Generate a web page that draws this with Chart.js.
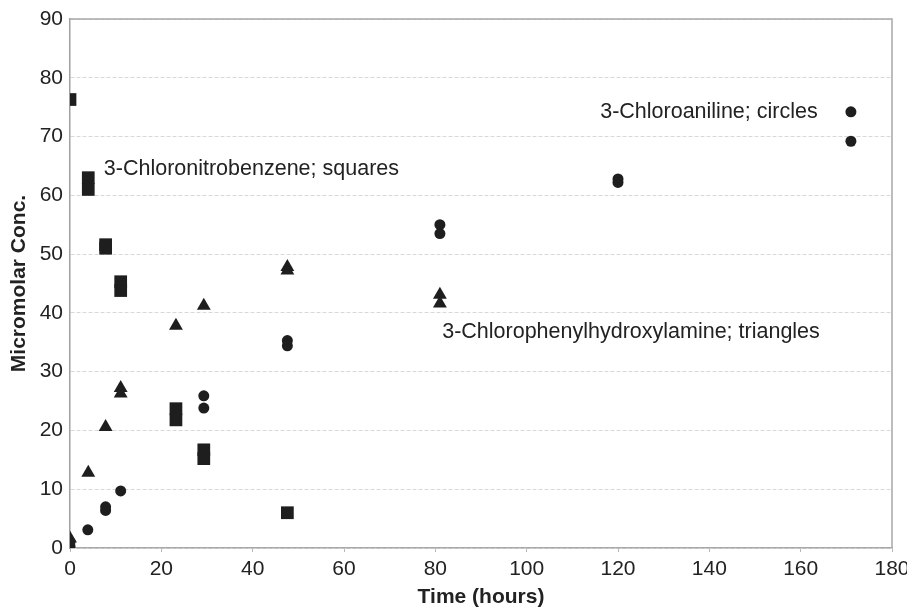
<!DOCTYPE html>
<html>
<head>
<meta charset="utf-8">
<script src="https://cdn.jsdelivr.net/npm/chart.js@4"></script>
<style>
  html, body { margin: 0; padding: 0; background: #fff; }
  #wrap { width: 907px; height: 610px; }
</style>
</head>
<body>
<div id="wrap"><canvas id="conc_chart" width="907" height="610"></canvas></div>
<script>
// 3-Chloronitrobenzene (squares)
const nitroTime = [0, 4, 4, 7.8, 7.8, 11.1, 11.1, 23.2, 23.2, 29.3, 29.3, 47.6];
const nitroConc = [76.3, 63.0, 61.0, 51.6, 51.0, 45.3, 43.8, 23.7, 21.8, 16.7, 15.2, 6.0];

// 3-Chlorophenylhydroxylamine (triangles)
const hydroxTime = [0, 4, 7.8, 11.1, 11.1, 23.2, 29.3, 47.6, 47.6, 81, 81];
const hydroxConc = [1.6, 12.8, 20.6, 27.2, 26.3, 37.8, 41.2, 47.8, 47.2, 43.1, 41.6];

// 3-Chloroaniline (circles)
const anilTime = [0, 0, 3.9, 7.8, 7.8, 11.1, 29.3, 29.3, 47.6, 47.6, 81, 81, 120, 120, 171, 171];
const anilConc = [0.3, 1.0, 3.1, 6.4, 7.0, 9.7, 25.9, 23.8, 35.3, 34.4, 55.0, 53.5, 62.8, 62.2, 74.2, 69.2];

// in-chart labels, anchored at data coordinates
const labelText = ["3-Chloronitrobenzene; squares", "3-Chlorophenylhydroxylamine; triangles", "3-Chloroaniline; circles"];
const labelTime = [7.4, 81.5, 116.1];
const labelConc = [64.5, 36.7, 74.2];

const FONT = "'Liberation Sans', Arial, Helvetica, sans-serif";
const INK = "#1e1e1e";

function toPoints(xs, ys) {
    return xs.map((x, i) => ({ x: x, y: ys[i] }));
}

const frameAndLabels = {
    id: "frameAndLabels",
    afterDatasetsDraw(chart) {
        const ctx = chart.ctx;
        const area = chart.chartArea;
        const xs = chart.scales.x;
        const ys = chart.scales.y;
        ctx.save();
        // top and right frame
        ctx.strokeStyle = "#a8a8a8";
        ctx.lineWidth = 1.5;
        ctx.beginPath();
        ctx.moveTo(area.left, area.top);
        ctx.lineTo(area.right, area.top);
        ctx.lineTo(area.right, area.bottom);
        ctx.stroke();
        // labels
        ctx.fillStyle = "#222";
        ctx.font = "21.5px " + FONT;
        ctx.textAlign = "left";
        ctx.textBaseline = "middle";
        for (let i = 0; i < labelText.length; i++) {
            ctx.fillText(labelText[i], xs.getPixelForValue(labelTime[i]), ys.getPixelForValue(labelConc[i]));
        }
        ctx.restore();
    },
};

new Chart(document.getElementById("conc_chart"), {
    type: "scatter",
    data: {
        datasets: [
            {
                label: "3-Chloronitrobenzene",
                data: toPoints(nitroTime, nitroConc),
                pointStyle: "rect",
                pointRadius: 9,
                backgroundColor: INK,
                borderWidth: 0,
            },
            {
                label: "3-Chlorophenylhydroxylamine",
                data: toPoints(hydroxTime, hydroxConc),
                pointStyle: "triangle",
                pointRadius: 8,
                backgroundColor: INK,
                borderWidth: 0,
            },
            {
                label: "3-Chloroaniline",
                data: toPoints(anilTime, anilConc),
                pointStyle: "circle",
                pointRadius: 5.5,
                backgroundColor: INK,
                borderWidth: 0,
            },
        ],
    },
    options: {
        responsive: false,
        animation: false,
        layout: { padding: { top: 19, right: 15, bottom: 0, left: 0 } },
        plugins: {
            legend: { display: false },
            tooltip: { enabled: false },
        },
        scales: {
            x: {
                type: "linear",
                min: 0,
                max: 180,
                afterFit: (scale) => {
                    scale.height = 62;
                    scale.paddingLeft = 0;
                    scale.paddingRight = 0;
                },
                ticks: {
                    stepSize: 20,
                    padding: 5,
                    color: "#222",
                    font: { family: FONT, size: 21 },
                },
                grid: {
                    drawOnChartArea: false,
                    drawTicks: true,
                    tickLength: 4,
                    color: "#b8b8b8",
                },
                border: { color: "#a8a8a8", width: 1.5 },
                title: {
                    display: true,
                    text: "Time (hours)",
                    color: "#222",
                    padding: 0,
                    font: { family: FONT, size: 21, weight: "bold" },
                },
            },
            y: {
                min: 0,
                max: 90,
                afterFit: (scale) => {
                    scale.width = 70;
                    scale.paddingTop = 0;
                    scale.paddingBottom = 0;
                },
                ticks: {
                    stepSize: 10,
                    padding: 7,
                    color: "#222",
                    font: { family: FONT, size: 21 },
                },
                grid: {
                    drawTicks: false,
                    color: "#d8d8d8",
                    lineWidth: 1,
                },
                border: { color: "#a0a0a0", width: 1.5, dash: [4, 2] },
                title: {
                    display: true,
                    text: "Micromolar Conc.",
                    color: "#222",
                    padding: { top: 7, bottom: 0 },
                    font: { family: FONT, size: 21, weight: "bold" },
                },
            },
        },
    },
    plugins: [frameAndLabels],
});
</script>
</body>
</html>
